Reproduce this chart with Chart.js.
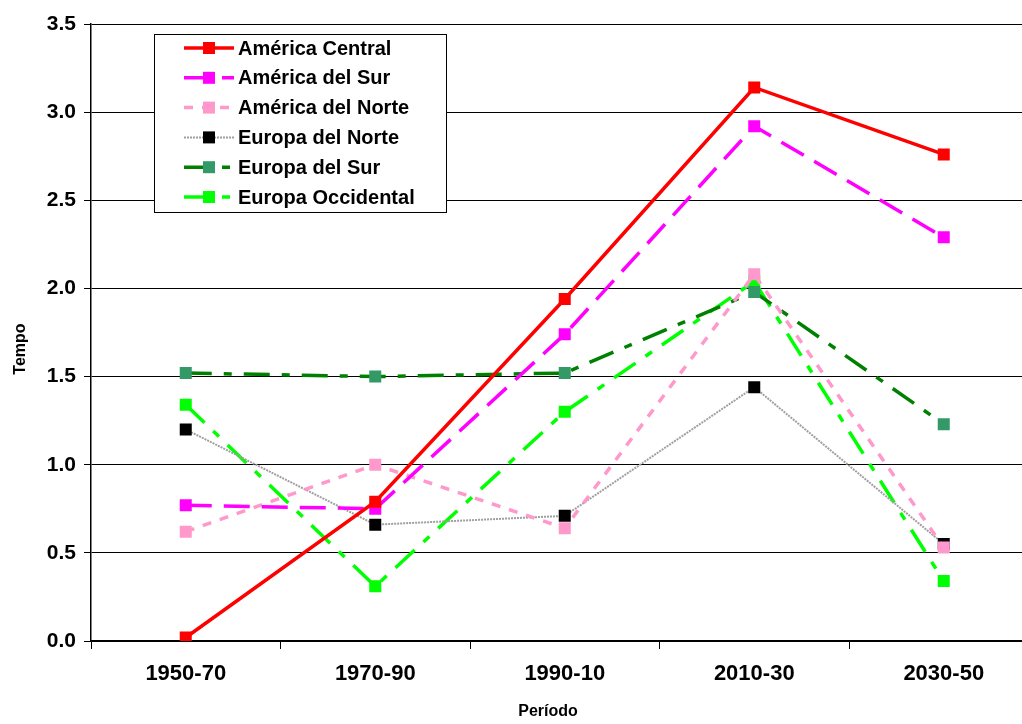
<!DOCTYPE html>
<html>
<head>
<meta charset="utf-8">
<script src="https://cdn.jsdelivr.net/npm/chart.js"></script>
<style>
  html, body { margin: 0; padding: 0; background: #fff; overflow: hidden; }
  canvas { display: block; }
</style>
</head>
<body>
<canvas id="mycanvas" width="1047" height="724"></canvas>
<script>
var periodos = ["1950-70", "1970-90", "1990-10", "2010-30", "2030-50"];

var americaCentral = [0.02, 0.79, 1.94, 3.14, 2.76];
var americaSur = [0.77, 0.75, 1.74, 2.92, 2.29];
var americaNorte = [0.62, 1.00, 0.64, 2.08, 0.53];
var europaNorte = [1.20, 0.66, 0.71, 1.44, 0.55];
var europaSur = [1.52, 1.50, 1.52, 1.98, 1.23];
var europaOccidental = [1.34, 0.31, 1.30, 2.04, 0.34];

var FONT = "'Liberation Sans', Arial, sans-serif";

function serie(label, data, color, marker, dash, width) {
	return {
		label: label,
		data: data,
		borderColor: color,
		backgroundColor: marker,
		borderWidth: width,
		borderDash: dash,
		pointStyle: 'rect',
		pointRadius: 8.5,
		pointHoverRadius: 8.5,
		pointBorderWidth: 0,
		pointBackgroundColor: marker,
		tension: 0
	};
}

var chartdata = {
	labels: periodos,
	datasets: [
		serie("América Central", americaCentral, '#ff0000', '#ff0000', [], 3.5),
		serie("América del Sur", americaSur, '#ff00ff', '#ff00ff', [26, 12], 3.5),
		serie("América del Norte", americaNorte, '#ff99cc', '#ff99cc', [9, 9], 3.5),
		serie("Europa del Norte", europaNorte, '#a0a0a0', '#000000', [2, 1], 2),
		serie("Europa del Sur", europaSur, '#008000', '#339966', [26, 12, 8, 12], 3.5),
		serie("Europa Occidental", europaOccidental, '#00ff00', '#00ff00', [26, 12, 8, 12], 3.5)
	]
};

// legend box inside the plot + axis titles, placed like the original
var extras = {
	id: 'extras',
	afterDraw: function(chart) {
		var ctx = chart.ctx;
		var x = 154, y = 34, w = 292, h = 178;
		ctx.save();
		ctx.fillStyle = '#fff';
		ctx.fillRect(x, y, w, h);
		ctx.strokeStyle = '#000';
		ctx.lineWidth = 1;
		ctx.strokeRect(x + 0.5, y + 0.5, w, h);
		ctx.font = 'bold 20px ' + FONT;
		ctx.textBaseline = 'middle';
		chart.data.datasets.forEach(function(ds, i) {
			var cy = 48 + i * 29.8;
			ctx.strokeStyle = ds.borderColor;
			ctx.lineWidth = ds.borderWidth;
			ctx.setLineDash(ds.borderDash);
			ctx.beginPath();
			ctx.moveTo(184, cy);
			ctx.lineTo(234, cy);
			ctx.stroke();
			ctx.setLineDash([]);
			ctx.fillStyle = ds.pointBackgroundColor;
			ctx.fillRect(203, cy - 6, 12, 12);
			ctx.fillStyle = '#000';
			ctx.fillText(ds.label, 238, cy + 1);
		});

		ctx.font = 'bold 16px ' + FONT;
		ctx.textAlign = 'center';
		ctx.fillText('Período', 548, 712);
		ctx.translate(21, 349);
		ctx.rotate(-Math.PI / 2);
		ctx.fillText('Tempo', 0, 0);
		ctx.restore();
	}
};

var ctx = document.getElementById('mycanvas');

var lineGraph = new Chart(ctx, {
	type: 'line',
	data: chartdata,
	plugins: [extras],
	options: {
		responsive: false,
		animation: false,
		devicePixelRatio: 1,
		layout: { padding: { left: 0, right: 2, top: 24, bottom: 0 } },
		plugins: {
			legend: { display: false },
			tooltip: { enabled: false }
		},
		scales: {
			x: {
				offset: true,
				grid: {
					offset: true,
					drawOnChartArea: false,
					drawTicks: true,
					tickLength: 8,
					color: '#000'
				},
				border: { color: '#000', width: 1.5 },
				ticks: {
					color: '#000',
					padding: 12,
					font: { family: FONT, size: 22, weight: 'bold' }
				},
				afterFit: function(scale) { scale.height = 83; }
			},
			y: {
				min: 0,
				max: 3.5,
				ticks: {
					stepSize: 0.5,
					color: '#000',
					padding: 8,
					font: { family: FONT, size: 21, weight: 'bold' },
					callback: function(v) { return v.toFixed(1); }
				},
				grid: {
					color: '#000',
					lineWidth: 1,
					tickLength: 7
				},
				border: { color: '#000', width: 1.5 },
				afterFit: function(scale) { scale.width = 91; }
			}
		}
	}
});
</script>
</body>
</html>
